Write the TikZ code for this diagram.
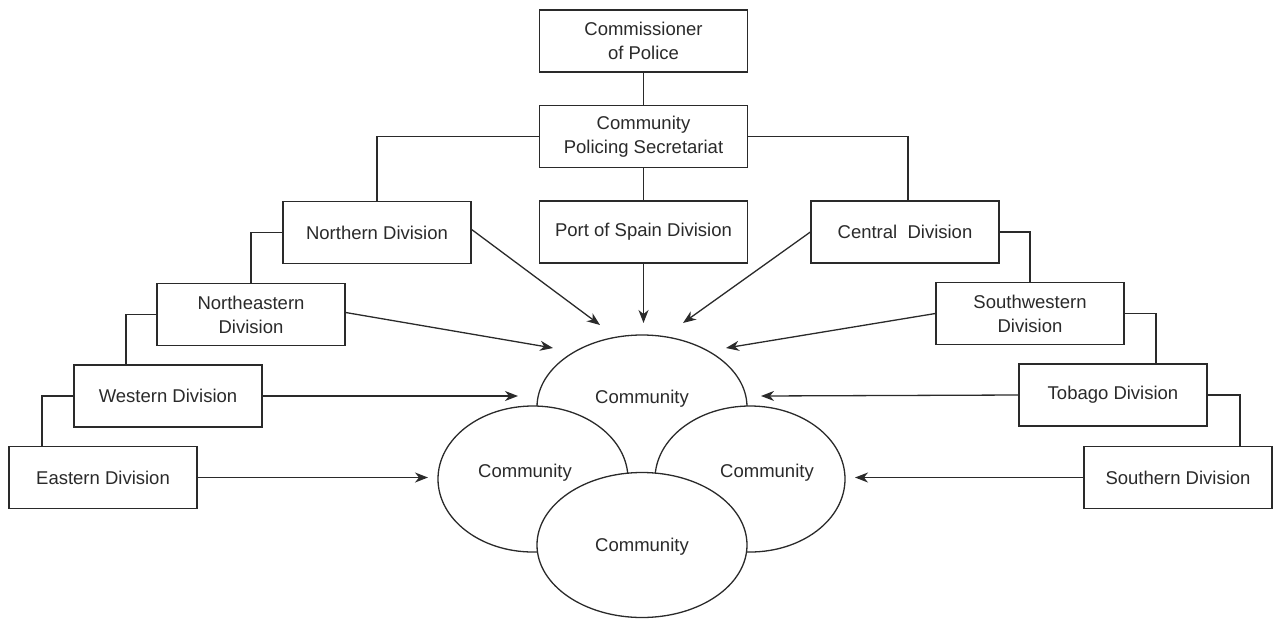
\documentclass[tikz,border=0pt]{standalone}
\usepackage{fontspec}
\setmainfont{Liberation Sans}
\usetikzlibrary{arrows.meta,shapes.geometric}
\definecolor{ink}{HTML}{2A2A2A}
\begin{document}
\begin{tikzpicture}[x=1pt,y=-1pt,
  every node/.style={text=ink},
  box/.style={draw=ink,line width=1.3pt,fill=white,minimum width=188pt,minimum height=62pt,inner sep=0pt,align=center,font=\fontsize{18.5}{24}\selectfont},
  wbox/.style={box,minimum width=208pt},
  comm/.style={ellipse,draw=ink,line width=1.3pt,fill=white,inner sep=0pt},
  ctext/.style={font=\fontsize{18.5}{22}\selectfont,inner sep=0pt},
  link/.style={draw=ink,line width=1.3pt},
  arr/.style={link,-{Stealth[length=13pt,width=10pt,inset=4pt]}}]
\useasboundingbox (0,0) rectangle (1274,619);
% ellipses
\node[comm,minimum width=210pt,minimum height=144pt] (ct) at (642,407) {};
\node[comm,minimum width=190pt,minimum height=146pt] (cl) at (533,479) {};
\node[comm,minimum width=190pt,minimum height=146pt] (cr) at (750,479) {};
\node[comm,minimum width=210pt,minimum height=145pt] (cb) at (642,545) {};
\node[ctext] (tt) at (642,399) {Community};
\node[ctext] (tl) at (525,473) {Community};
\node[ctext] (tr) at (767,473) {Community};
\node[ctext] (tb) at (642,547) {Community};
% boxes
\node[wbox] (cop) at (643.5,41) {Commissioner\\of Police};
\node[wbox] (sec) at (643.5,136.5) {Community\\Policing Secretariat};
\node[box] (north) at (377,232.5) {Northern Division};
\node[wbox] (pos) at (643.5,232) {Port of Spain Division};
\node[box] (central) at (905,232) {Central\ \ Division};
\node[box] (neast) at (251,314.5) {Northeastern\\Division};
\node[box] (swest) at (1030,313.5) {Southwestern\\Division};
\node[box] (west) at (168,396) {Western Division};
\node[box] (tobago) at (1113,395) {Tobago Division};
\node[box] (east) at (103,477.5) {Eastern Division};
\node[box] (south) at (1178,477.5) {Southern Division};
% hierarchy links
\draw[link] (cop.south) -- (sec.north);
\draw[link] (sec.south) -- (pos.north);
\draw[link] (north.north) |- (sec.west);
\draw[link] ([xshift=3pt]central.north) |- (sec.east);
\draw[link] (neast.north) |- (north.west);
\draw[link] ([xshift=-42pt]west.north) |- (neast.west);
\draw[link] ([xshift=-61pt]east.north) |- (west.west);
\draw[link] (central.east) -| (swest.north);
\draw[link] (swest.east) -| ([xshift=43pt]tobago.north);
\draw[link] (tobago.east) -| ([xshift=62pt]south.north);
% arrow targets
\coordinate (a1) at (600,325);
\coordinate (a2) at (643.5,323);
\coordinate (a3) at (683,323);
\coordinate (b1) at (553,348);
\coordinate (b2) at (726,348);
\coordinate (c1) at (518,396);
\coordinate (c2) at (761,396);
\coordinate (d1) at (428,477.5);
\coordinate (d2) at (855,477.5);
\draw[arr] ([yshift=3pt]north.east) -- (a1);
\draw[arr] (pos.south) -- (a2);
\draw[arr] (central.west) -- (a3);
\draw[arr] ([yshift=2pt]neast.east) -- (b1);
\draw[arr] (swest.west) -- (b2);
\draw[arr] (west.east) -- (c1);
\draw[arr] (tobago.west) -- (c2);
\draw[arr] (east.east) -- (d1);
\draw[arr] (south.west) -- (d2);
\end{tikzpicture}
\end{document}
